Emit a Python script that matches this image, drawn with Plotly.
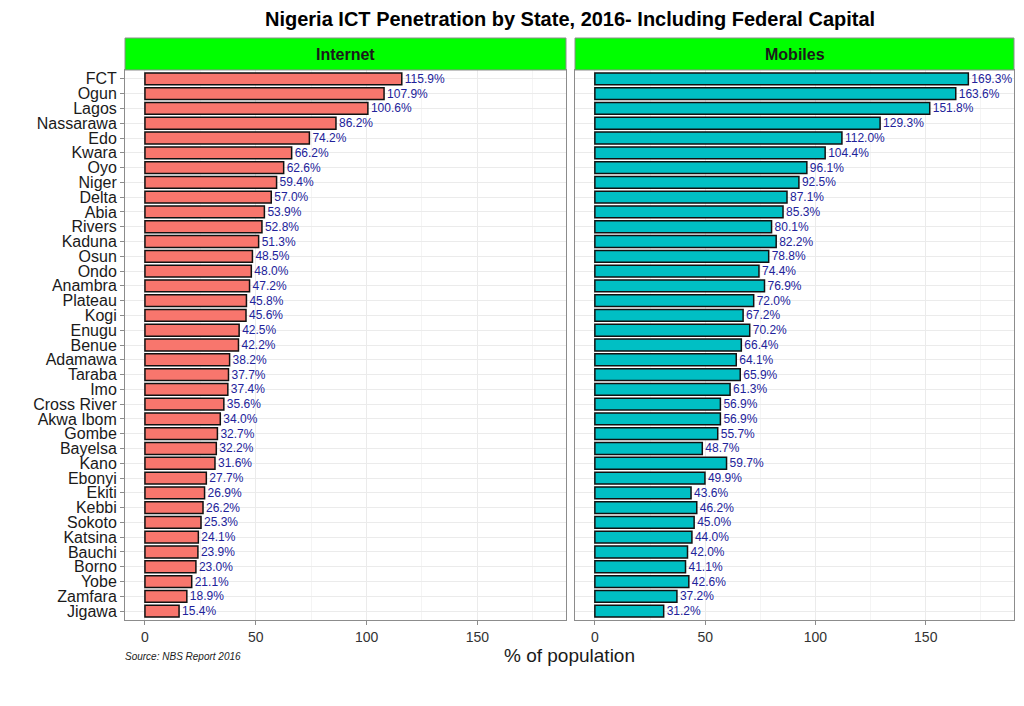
import plotly.graph_objects as go

states = ["FCT", "Ogun", "Lagos", "Nassarawa", "Edo", "Kwara", "Oyo", "Niger", "Delta",
          "Abia", "Rivers", "Kaduna", "Osun", "Ondo", "Anambra", "Plateau", "Kogi", "Enugu",
          "Benue", "Adamawa", "Taraba", "Imo", "Cross River", "Akwa Ibom", "Gombe", "Bayelsa",
          "Kano", "Ebonyi", "Ekiti", "Kebbi", "Sokoto", "Katsina", "Bauchi", "Borno", "Yobe",
          "Zamfara", "Jigawa"]
internet = [115.9, 107.9, 100.6, 86.2, 74.2, 66.2, 62.6, 59.4, 57.0, 53.9, 52.8, 51.3, 48.5,
            48.0, 47.2, 45.8, 45.6, 42.5, 42.2, 38.2, 37.7, 37.4, 35.6, 34.0, 32.7, 32.2, 31.6,
            27.7, 26.9, 26.2, 25.3, 24.1, 23.9, 23.0, 21.1, 18.9, 15.4]
mobiles = [169.3, 163.6, 151.8, 129.3, 112.0, 104.4, 96.1, 92.5, 87.1, 85.3, 80.1, 82.2, 78.8,
           74.4, 76.9, 72.0, 67.2, 70.2, 66.4, 64.1, 65.9, 61.3, 56.9, 56.9, 55.7, 48.7, 59.7,
           49.9, 43.6, 46.2, 45.0, 44.0, 42.0, 41.1, 42.6, 37.2, 31.2]
panels = ["Internet", "Mobiles"]
x_ticks = [0, 50, 100, 150]

W, H = 1024, 706
FONT = "Liberation Sans, Arial, sans-serif"
LABEL_COLOR = "#22229a"

def px_x(p):
    return p / W

def px_y(p):
    return 1 - p / H

panel_x = [(125, 566), (575, 1014)]
panel_top, panel_bot = 70, 620
strip_top = 38

fig = go.Figure()
n = len(states)

for i, (vals, color) in enumerate([(internet, "#F8766D"), (mobiles, "#00BFC4")]):
    xa = "x" if i == 0 else "x2"
    ya = "y" if i == 0 else "y2"
    fig.add_trace(go.Bar(
        x=vals, y=states, orientation="h",
        marker=dict(color=color, line=dict(color="#111111", width=1.5)),
        width=0.8,
        text=[f"{v:.1f}%" for v in vals],
        textposition="outside",
        constraintext="none",
        cliponaxis=False,
        textfont=dict(color=LABEL_COLOR, size=12, family=FONT),
        xaxis=xa, yaxis=ya, showlegend=False,
        hovertemplate="%{y}: %{x:.1f}%<extra></extra>",
    ))

common_x = dict(
    range=[-9, 190], tickvals=x_ticks, ticktext=[str(t) for t in x_ticks],
    showgrid=True, gridcolor="#ebebeb", gridwidth=1,
    minor=dict(tickvals=[25, 75, 125, 175], showgrid=True, gridcolor="#f4f4f4", gridwidth=0.8),
    zeroline=False, showline=True, linecolor="#8c8c8c", linewidth=1, mirror=True,
    ticks="outside", ticklen=4, tickcolor="#8c8c8c",
    tickfont=dict(size=14, color="#333333", family=FONT),
    fixedrange=True,
)
common_y = dict(
    type="category", categoryorder="array", categoryarray=states,
    tickmode="array", tickvals=states, ticktext=states,
    range=[n - 0.4, -0.6],
    showgrid=True, gridcolor="#ebebeb", gridwidth=1,
    zeroline=False, showline=True, linecolor="#8c8c8c", linewidth=1, mirror=True,
    domain=[px_y(panel_bot), px_y(panel_top)],
    fixedrange=True,
)

fig.update_layout(
    width=W, height=H,
    margin=dict(l=0, r=0, t=0, b=0),
    paper_bgcolor="white", plot_bgcolor="white",
    font=dict(family=FONT, color="#1a1a1a"),
    bargap=0.2,
    xaxis=dict(domain=[px_x(panel_x[0][0]), px_x(panel_x[0][1])], anchor="y", **common_x),
    xaxis2=dict(domain=[px_x(panel_x[1][0]), px_x(panel_x[1][1])], anchor="y2", **common_x),
    yaxis=dict(anchor="x", ticks="outside", ticklen=4, tickcolor="#8c8c8c",
               tickfont=dict(size=16, color="#1a1a1a", family=FONT), **common_y),
    yaxis2=dict(anchor="x2", showticklabels=False, ticks="", matches="y", **common_y),
)

# strips
for (x0, x1), name in zip(panel_x, panels):
    fig.add_shape(type="rect", xref="paper", yref="paper",
                  x0=px_x(x0), x1=px_x(x1), y0=px_y(panel_top), y1=px_y(strip_top),
                  fillcolor="#00FF00", line=dict(color="#8c8c8c", width=1))
    fig.add_annotation(xref="paper", yref="paper", x=px_x((x0 + x1) / 2),
                       y=px_y((strip_top + panel_top) / 2), text=f"<b>{name}</b>",
                       showarrow=False, font=dict(size=16, color="#1a1a1a", family=FONT),
                       xanchor="center", yanchor="middle")

# title
fig.add_annotation(xref="paper", yref="paper", x=px_x(570), y=px_y(19),
                   text="<b>Nigeria ICT Penetration by State, 2016- Including Federal Capital</b>",
                   showarrow=False, font=dict(size=20, color="#000000", family=FONT),
                   xanchor="center", yanchor="middle")
# x axis title
fig.add_annotation(xref="paper", yref="paper", x=px_x(569), y=px_y(655),
                   text="% of population", showarrow=False,
                   font=dict(size=19, color="#1a1a1a", family=FONT),
                   xanchor="center", yanchor="middle")
# caption
fig.add_annotation(xref="paper", yref="paper", x=px_x(123), y=px_y(656),
                   text="<i>Source: NBS Report 2016</i>", showarrow=False,
                   font=dict(size=10, color="#1a1a1a", family=FONT),
                   xanchor="left", yanchor="middle")

fig.write_html("out.html")
